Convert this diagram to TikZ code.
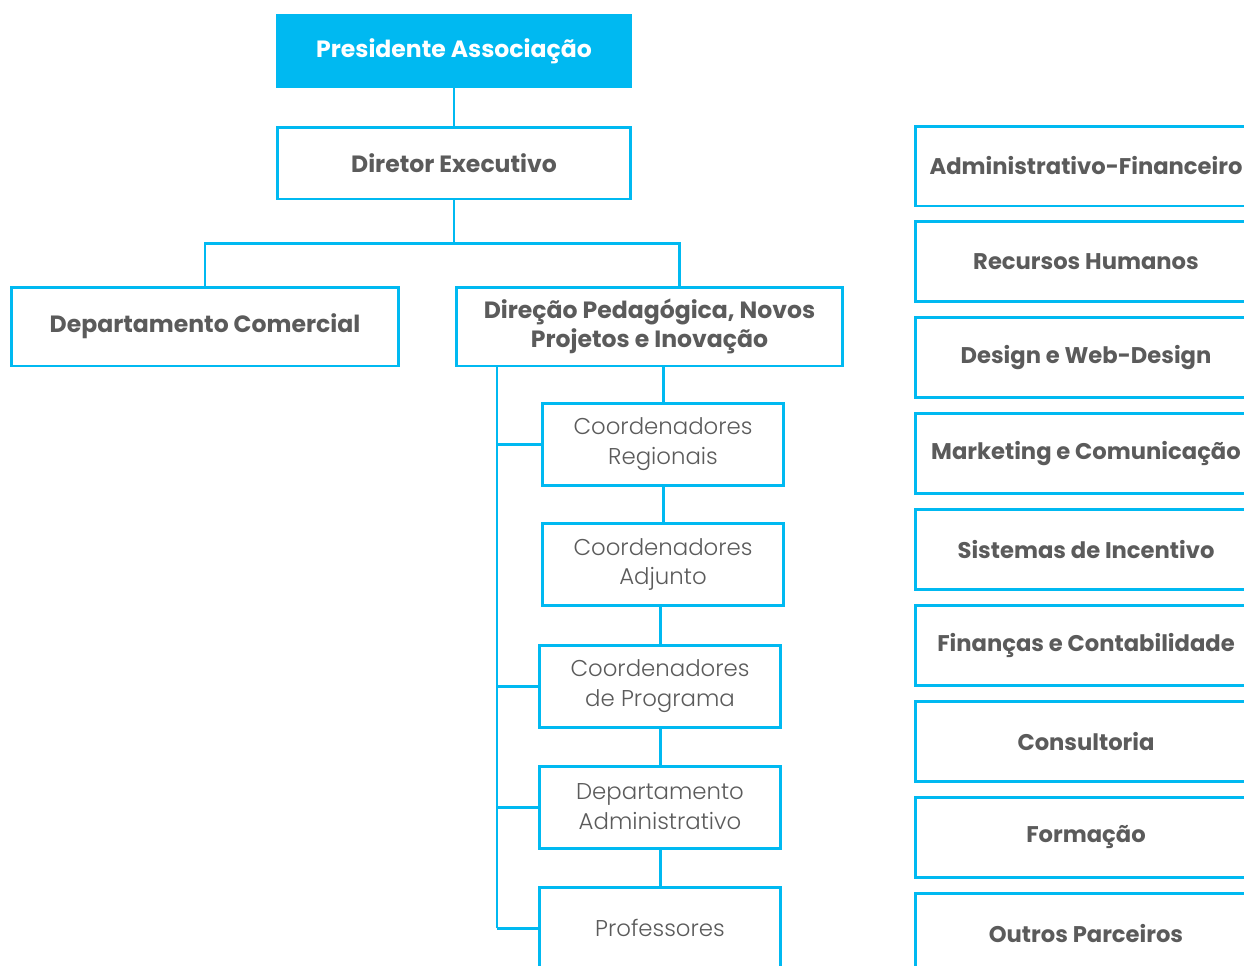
\documentclass[tikz,border=0pt]{standalone}
\usepackage{fontspec}
\setmainfont{Poppins}
\newfontfamily\lightfont{Poppins Light}
\definecolor{orgblue}{HTML}{00B9F1}
\definecolor{orggray}{HTML}{5B5B5B}
\tikzset{
  unit/.style={draw=orgblue, line width=1.7pt, fill=white, align=center, text=orggray, inner sep=0pt},
  boldunit/.style={unit, font=\bfseries\fontsize{13.4}{16.5}\selectfont},
  lightunit/.style={unit, font=\lightfont\fontsize{13}{17}\selectfont, minimum width=4.84cm, minimum height=1.64cm},
  sideunit/.style={unit, font=\bfseries\fontsize{12.9}{16}\selectfont, minimum width=6.84cm, minimum height=1.6cm},
  link/.style={draw=orgblue, line width=1.7pt}
}
\begin{document}
\begin{tikzpicture}[x=0.02cm, y=-0.02cm]
		\useasboundingbox (0,0) rectangle (1244,965);
		\clip (0,0) rectangle (1244,965);
		% Topo
		\node[boldunit, fill=orgblue, draw=orgblue, text=white, minimum width=7.08cm, minimum height=1.44cm] (pres) at (454,51) {Presidente Associação};
		\node[boldunit, minimum width=7.08cm, minimum height=1.44cm] (dir) at (454,163) {Diretor Executivo};
		\node[boldunit, minimum width=7.76cm, minimum height=1.58cm] (com) at (205,326.5) {Departamento Comercial};
		\node[boldunit, minimum width=7.74cm, minimum height=1.58cm] (ped) at (649.5,326.5) {Direção Pedagógica, Novos\\Projetos e Inovação};
		\coordinate (split) at (453,243);
		\coordinate (pedtop) at (679,287);
		\draw[link] (pres) -- (dir);
		\draw[link] (dir.south) -- (dir.south |- split);
		\draw[link] (com.north) -- (com.north |- split) -- (split -| pedtop) -- (pedtop);
		% Coordenacao
		\node[lightunit] (reg) at (663,444.5) {Coordenadores\\Regionais};
		\node[lightunit] (adj) at (663,564.5) {Coordenadores\\Adjunto};
		\node[lightunit] (prog) at (660,686) {Coordenadores\\de Programa};
		\node[lightunit] (adm) at (660,807) {Departamento\\Administrativo};
		\node[lightunit] (prof) at (660,928) {Professores};
		\draw[link] (reg.north) -- (reg.north |- ped.south);
		\draw[link] (reg.south) -- (reg.south |- adj.north);
		\draw[link] (prog.north) -- (prog.north |- adj.south);
		\draw[link] (prog.south) -- (adm.north);
		\draw[link] (adm.south) -- (prof.north);
		\coordinate (trunk) at (497,366);
		\draw[link] (trunk) -- (trunk |- prof.west);
		\foreach \n in {reg,prog,adm,prof}
			\draw[link] (\n.west) -- (\n.west -| trunk);
		% Coluna da direita
		\foreach \t [count=\i] in {Administrativo-Financeiro, Recursos Humanos, Design e Web-Design, Marketing e Comunicação, Sistemas de Incentivo, Finanças e Contabilidade, Consultoria, Formação, Outros Parceiros}
			\node[sideunit] (side\i) at (1086,{166+95.9*(\i-1)}) {\t};
\end{tikzpicture}
\end{document}
